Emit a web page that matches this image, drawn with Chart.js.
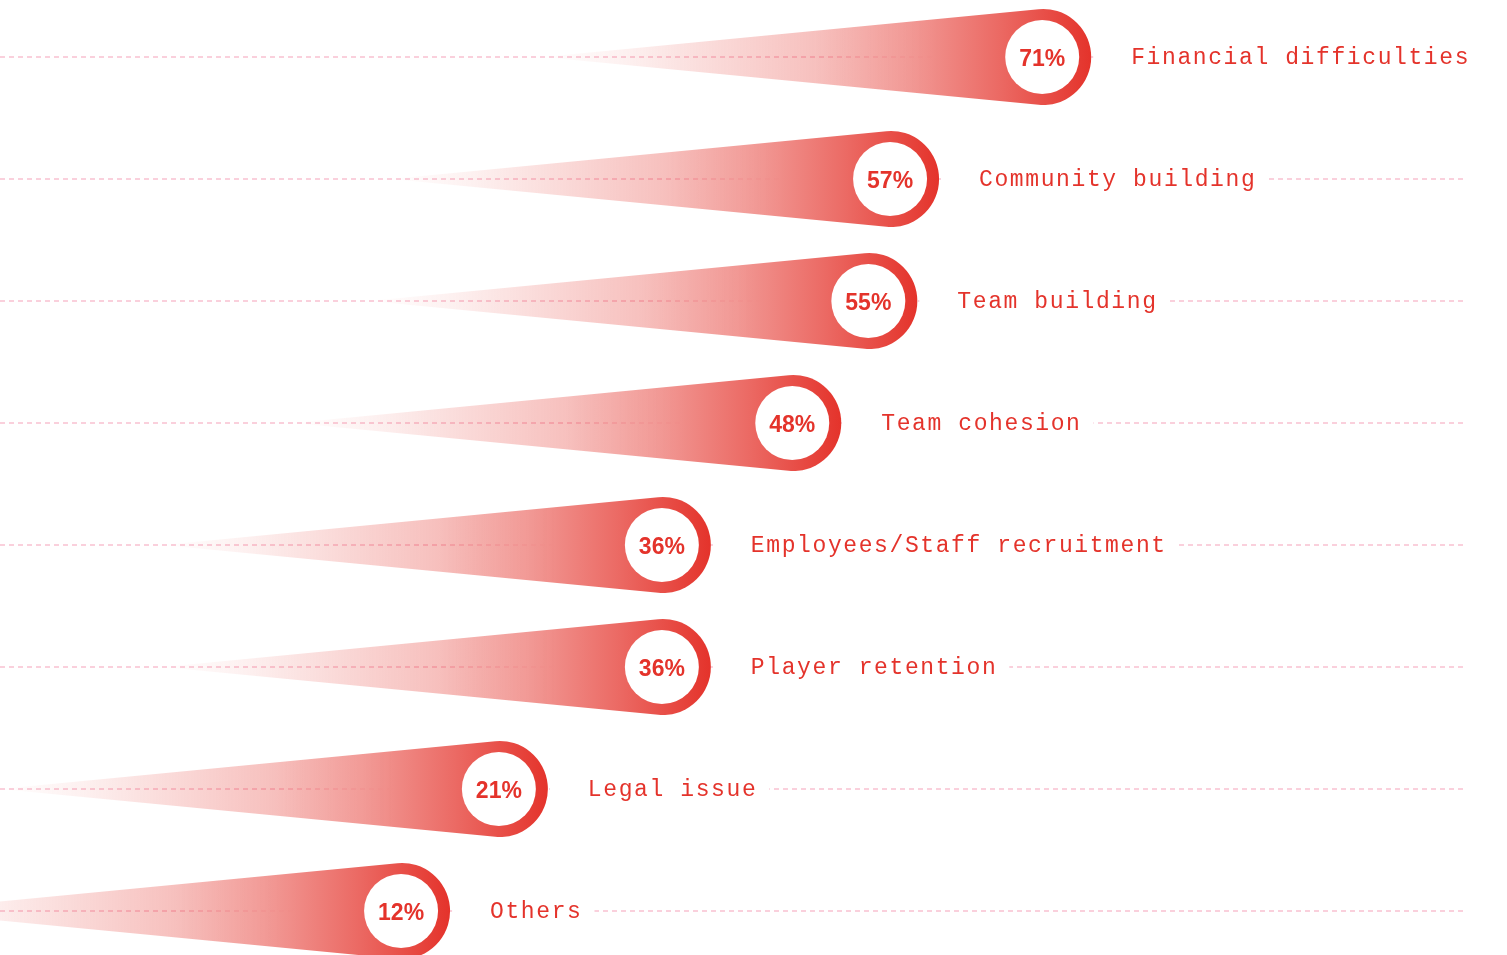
<!DOCTYPE html>
<html>
<head>
<meta charset="utf-8">
<script src="https://cdn.jsdelivr.net/npm/chart.js@4.4.1/dist/chart.umd.min.js"></script>
<style>
  html, body { margin: 0; background: #fff; }
  #wrap { width: 1507px; height: 955px; position: relative; }
</style>
</head>
<body>
<div id="wrap"><canvas id="challenges"></canvas></div>
<script>
// Main challenges, share of respondents (%)
const categories = [
  'Financial difficulties',
  'Community building',
  'Team building',
  'Team cohesion',
  'Employees/Staff recruitment',
  'Player retention',
  'Legal issue',
  'Others'
];
const shares = [71, 57, 55, 48, 36, 36, 21, 12];

const RED = 'rgb(228,51,43)';
const redA = a => `rgba(228,51,43,${a})`;
const whiteA = a => `rgba(255,255,255,${a})`;

// dashed pink guide line through every row
const rowLines = {
  id: 'rowLines',
  beforeDatasetsDraw(chart) {
    const { ctx, chartArea, scales } = chart;
    ctx.save();
    ctx.strokeStyle = 'rgb(250,208,220)';
    ctx.lineWidth = 2;
    ctx.setLineDash([5, 4]);
    categories.forEach((_, i) => {
      const y = Math.round(scales.y.getPixelForValue(i));
      ctx.beginPath();
      ctx.moveTo(chartArea.left, y);
      ctx.lineTo(chartArea.right, y);
      ctx.stroke();
    });
    ctx.restore();
  }
};

// comet shape: fading tail + ring head with the value, label to the right
const cometPlugin = {
  id: 'comets',
  afterDatasetsDraw(chart) {
    const ctx = chart.ctx;
    const meta = chart.getDatasetMeta(0);
    const R = 48, r = 37, tail = 500;
    meta.data.forEach((bar, i) => {
      const cx = bar.x, cy = bar.y;
      const tipX = cx - tail;
      const th = Math.acos(R / tail);
      ctx.save();

      ctx.beginPath();
      ctx.moveTo(tipX, cy);
      ctx.arc(cx, cy, R, -(Math.PI - th), Math.PI - th);
      ctx.closePath();

      // white under-layer so the guide line fades out inside the tail
      const mask = ctx.createLinearGradient(tipX, 0, cx + R, 0);
      mask.addColorStop(0, whiteA(0));
      mask.addColorStop(0.5, whiteA(0));
      mask.addColorStop(0.72, whiteA(1));
      mask.addColorStop(1, whiteA(1));
      ctx.fillStyle = mask;
      ctx.fill();

      const grad = ctx.createLinearGradient(tipX, 0, cx + R, 0);
      grad.addColorStop(0, redA(0));
      grad.addColorStop(0.15, redA(0.07));
      grad.addColorStop(0.5, redA(0.31));
      grad.addColorStop(0.67, redA(0.5));
      grad.addColorStop(0.83, redA(0.73));
      grad.addColorStop(1, redA(1));
      ctx.fillStyle = grad;
      ctx.fill();

      ctx.beginPath();
      ctx.arc(cx - 1, cy, r, 0, Math.PI * 2);
      ctx.fillStyle = '#fff';
      ctx.fill();

      ctx.fillStyle = RED;
      ctx.font = "bold 23px 'Liberation Sans', Arial, sans-serif";
      ctx.letterSpacing = '0px';
      ctx.textAlign = 'center';
      ctx.textBaseline = 'alphabetic';
      ctx.fillText(shares[i] + '%', cx - 1, cy + 9);

      // category name, with a white strip to break the dashed row line
      ctx.font = "23px 'Liberation Mono', 'DejaVu Sans Mono', monospace";
      ctx.letterSpacing = '1.6px';
      ctx.textAlign = 'left';
      const lx = cx + 88;
      const w = ctx.measureText(categories[i]).width;
      ctx.fillStyle = '#fff';
      ctx.fillRect(cx + R + 2, cy - 6, lx + w + 12 - (cx + R + 2), 12);
      ctx.fillStyle = RED;
      ctx.fillText(categories[i], lx, cy + 7);
      ctx.restore();
    });
  }
};

new Chart(document.getElementById('challenges'), {
  type: 'bar',
  data: {
    labels: categories,
    datasets: [{
      data: shares,
      backgroundColor: 'rgba(0,0,0,0)',
      borderWidth: 0
    }]
  },
  options: {
    indexAxis: 'y',
    responsive: true,
    maintainAspectRatio: false,
    animation: false,
    layout: { padding: { left: 0, right: 40, top: 57, bottom: 44 } },
    scales: {
      x: { display: false, min: -25, max: 110 },
      y: {
        offset: false,
        ticks: { display: false },
        grid: { display: false, drawTicks: false },
        border: { display: false }
      }
    },
    plugins: {
      legend: { display: false },
      tooltip: { enabled: false }
    }
  },
  plugins: [rowLines, cometPlugin]
});
</script>
</body>
</html>
